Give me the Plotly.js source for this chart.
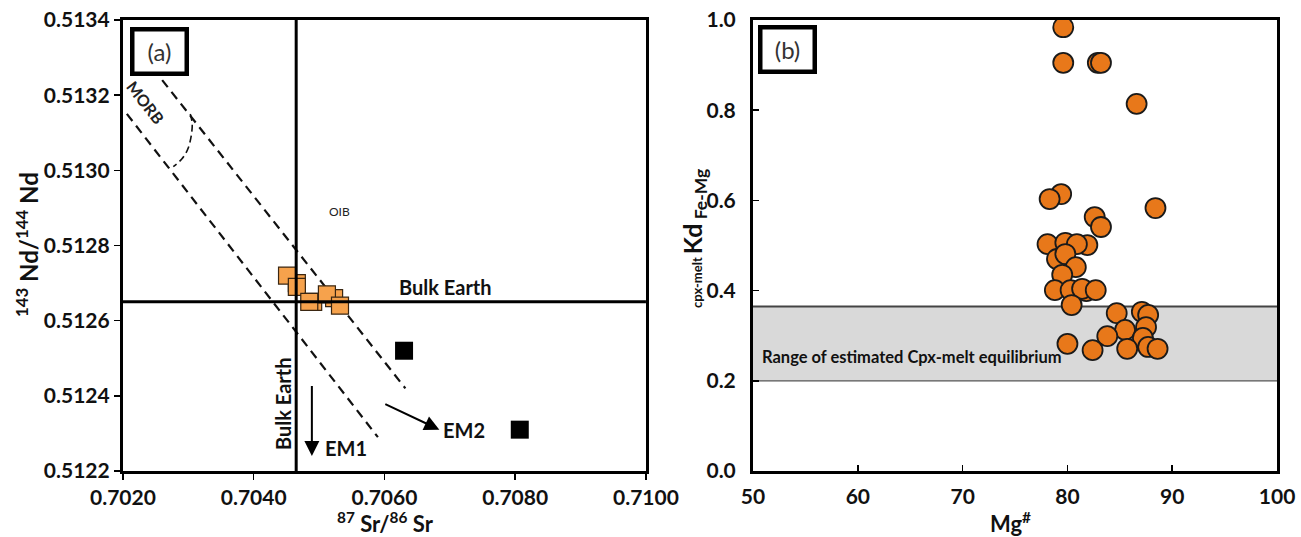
<!DOCTYPE html>
<html>
<head>
<meta charset="utf-8">
<script src="https://cdn.plot.ly/plotly-3.0.1.min.js"></script>
<style>html,body{margin:0;padding:0;background:#fff;}#chart{width:1301px;height:537px;}</style>
</head>
<body>
<div id="chart"></div>
<script>
// ---------- Panel (a): 87Sr/86Sr vs 143Nd/144Nd ----------
const srTicks = [0.7020, 0.7040, 0.7060, 0.7080, 0.7100];
const ndTicks = [0.5122, 0.5124, 0.5126, 0.5128, 0.5130, 0.5132, 0.5134];
const sampleSr = [0.70466, 0.70451, 0.70466, 0.70491, 0.70485, 0.70523, 0.70512, 0.70532];
const sampleNd = [0.51270, 0.51272, 0.51269, 0.51265, 0.51265, 0.51266, 0.51267, 0.51264];
const refSr = [0.70630, 0.70807];
const refNd = [0.51252, 0.51231];
const bulkEarthSr = 0.70465;
const bulkEarthNd = 0.51265;
const upperArraySr = [0.70260, 0.70632];
const upperArrayNd = [0.51324, 0.51242];
const lowerArraySr = [0.70206, 0.70590];
const lowerArrayNd = [0.51315, 0.51229];
const morbSr = [0.70303, 0.70306, 0.70300, 0.70290, 0.70277];
const morbNd = [0.51315, 0.51312, 0.51306, 0.51303, 0.51301];
const em1Arrow = {sr: [0.70489, 0.70489], nd: [0.51243, 0.51224]};
const em2Arrow = {sr: [0.70599, 0.70684], nd: [0.51238, 0.51231]};

// ---------- Panel (b): Mg# vs Kd Fe-Mg ----------
const mgTicks = [50, 60, 70, 80, 90, 100];
const kdTicks = [0.0, 0.2, 0.4, 0.6, 0.8, 1.0];
const mgNumber = [79.6, 79.6, 82.9, 83.2, 86.6,
  79.4, 78.3, 88.4, 82.6, 83.2,
  78.1, 79.8, 81.9, 80.9, 79.0, 79.8, 80.8, 79.5,
  78.8, 80.3, 81.8, 81.4, 82.7, 80.4,
  84.7, 87.1, 87.7, 87.5, 85.5, 83.8, 87.2,
  80.0, 82.4, 85.7, 87.7, 88.6];
const kdFeMg = [0.984, 0.905, 0.905, 0.905, 0.814,
  0.614, 0.603, 0.583, 0.563, 0.541,
  0.503, 0.506, 0.501, 0.503, 0.470, 0.481, 0.452, 0.435,
  0.401, 0.401, 0.399, 0.404, 0.401, 0.368,
  0.350, 0.353, 0.346, 0.319, 0.313, 0.299, 0.295,
  0.282, 0.268, 0.271, 0.275, 0.271];
const eqBand = [0.2, 0.365];

const FONT = 'Lato, "Open Sans", sans-serif';
const tickFont = {family: FONT, size: 21, color: '#111', weight: 'bold'};

const traces = [
  {x: upperArraySr, y: upperArrayNd, xaxis: 'x', yaxis: 'y', mode: 'lines',
   line: {color: '#111', width: 2.2, dash: '9px,6px'}, hoverinfo: 'skip'},
  {x: lowerArraySr, y: lowerArrayNd, xaxis: 'x', yaxis: 'y', mode: 'lines',
   line: {color: '#111', width: 2.2, dash: '9px,6px'}, hoverinfo: 'skip'},
  {x: morbSr, y: morbNd, xaxis: 'x', yaxis: 'y', mode: 'lines',
   line: {color: '#111', width: 1.6, dash: '7px,4px', shape: 'spline'}, hoverinfo: 'skip'},
  {x: sampleSr, y: sampleNd, xaxis: 'x', yaxis: 'y', mode: 'markers',
   marker: {symbol: 'square', size: 17, color: '#F6A24C', line: {color: '#3b2712', width: 1.2}}},
  {x: refSr, y: refNd, xaxis: 'x', yaxis: 'y', mode: 'markers',
   marker: {symbol: 'square', size: 18, color: '#000'}},
  {x: mgNumber, y: kdFeMg, xaxis: 'x2', yaxis: 'y2', mode: 'markers',
   marker: {symbol: 'circle', size: 20, color: '#E8781A', line: {color: '#1a1a1a', width: 1.8}}}
];

const axisCommon = {showgrid: false, zeroline: false, showline: true, linecolor: '#000',
  linewidth: 3, mirror: true, tickfont: tickFont, tickcolor: '#000', tickwidth: 1.5, ticklen: 6,
  fixedrange: true};

const layout = {
  width: 1301, height: 537, autosize: false,
  margin: {l: 0, r: 0, t: 0, b: 0},
  paper_bgcolor: '#fff', plot_bgcolor: '#fff',
  showlegend: false,
  font: {family: FONT, color: '#111'},
  xaxis: Object.assign({}, axisCommon, {domain: [0.0945, 0.4965], range: [0.7020, 0.7100],
    tickmode: 'array', tickvals: srTicks, tickformat: '.4f', ticks: 'outside', anchor: 'y'}),
  yaxis: Object.assign({}, axisCommon, {domain: [0.1229, 0.9628], range: [0.5122, 0.5134],
    tickmode: 'array', tickvals: ndTicks, tickformat: '.4f', ticks: 'outside', anchor: 'x'}),
  xaxis2: Object.assign({}, axisCommon, {domain: [0.5788, 0.9816], range: [50, 100],
    tickmode: 'array', tickvals: mgTicks, ticks: 'inside', anchor: 'y2', ticklabelstandoff: 5}),
  yaxis2: Object.assign({}, axisCommon, {domain: [0.1229, 0.9628], range: [0, 1],
    tickmode: 'array', tickvals: kdTicks, tickformat: '.1f', ticks: 'inside', anchor: 'x2',
    ticklabelstandoff: 10}),
  shapes: [
    {type: 'line', xref: 'x', yref: 'y domain', x0: bulkEarthSr, x1: bulkEarthSr, y0: 0, y1: 1,
     line: {color: '#000', width: 3}},
    {type: 'line', xref: 'x domain', yref: 'y', x0: 0, x1: 1, y0: bulkEarthNd, y1: bulkEarthNd,
     line: {color: '#000', width: 3}},
    {type: 'rect', xref: 'x2 domain', yref: 'y2', x0: 0, x1: 1, y0: eqBand[0], y1: eqBand[1],
     fillcolor: '#d9d9d9', line: {width: 0}, layer: 'below'},
    {type: 'line', xref: 'x2 domain', yref: 'y2', x0: 0, x1: 1, y0: eqBand[1], y1: eqBand[1],
     line: {color: '#444', width: 2}, layer: 'below'},
    {type: 'line', xref: 'x2 domain', yref: 'y2', x0: 0, x1: 1, y0: eqBand[0], y1: eqBand[0],
     line: {color: '#555', width: 1.2}, layer: 'below'}
  ],
  annotations: [
    // panel labels
    {xref: 'paper', yref: 'paper', x: 159/1301, y: 1 - 51.5/537, xanchor: 'center', yanchor: 'middle',
     text: '(a)', showarrow: false,
     font: {family: FONT, size: 24, color: '#333'}, bordercolor: '#000', borderwidth: 4.5,
     width: 50, height: 40, borderpad: 0, bgcolor: '#fff'},
    {xref: 'paper', yref: 'paper', x: 787.5/1301, y: 1 - 49.5/537, xanchor: 'center', yanchor: 'middle',
     text: '(b)', showarrow: false,
     font: {family: FONT, size: 24, color: '#333'}, bordercolor: '#000', borderwidth: 4.5,
     width: 50, height: 40, borderpad: 0, bgcolor: '#fff'},
    // axis titles
    {xref: 'paper', yref: 'paper', x: 27/1301, y: 1 - 245/537, xanchor: 'center', yanchor: 'middle',
     textangle: -90, showarrow: false,
     text: '<sup>143</sup> Nd/<sup>144</sup> Nd', font: {family: FONT, size: 24, weight: 'bold', color: '#111'}},
    {xref: 'paper', yref: 'paper', x: 385/1301, y: 1 - 522/537, xanchor: 'center', yanchor: 'middle',
     showarrow: false,
     text: '<sup>87</sup> Sr/<sup>86</sup> Sr', font: {family: FONT, size: 22, weight: 'bold', color: '#111'}},
    {xref: 'paper', yref: 'paper', x: 1010/1301, y: 1 - 522/537, xanchor: 'center', yanchor: 'middle',
     showarrow: false,
     text: 'Mg<sup>#</sup>', font: {family: FONT, size: 22, weight: 'bold', color: '#111'}},
    {xref: 'paper', yref: 'paper', x: 694/1301, y: 1 - 239/537, xanchor: 'center', yanchor: 'middle',
     textangle: -90, showarrow: false,
     text: '<span style="font-size:13px">cpx-melt </span>Kd<sub> Fe-Mg</sub>',
     font: {family: FONT, size: 25, weight: 'bold', color: '#111'}},
    // panel (a) texts
    {xref: 'x', yref: 'y', x: 0.70235, y: 0.51318, text: 'MORB', textangle: 52, showarrow: false,
     font: {family: FONT, size: 16, weight: 'bold', color: '#222'}},
    {xref: 'x', yref: 'y', x: 0.70532, y: 0.51289, text: 'OIB', showarrow: false,
     font: {family: FONT, size: 12, color: '#222'}},
    {xref: 'x', yref: 'y', x: 0.70693, y: 0.51269, text: 'Bulk Earth', showarrow: false,
     font: {family: FONT, size: 20, weight: 'bold', color: '#111'}},
    {xref: 'x', yref: 'y', x: 0.70446, y: 0.51238, text: 'Bulk Earth', textangle: -90, showarrow: false,
     font: {family: FONT, size: 20, weight: 'bold', color: '#111'}},
    {xref: 'x', yref: 'y', x: 0.70541, y: 0.51226, text: 'EM1', showarrow: false,
     font: {family: FONT, size: 20, weight: 'bold', color: '#111'}},
    {xref: 'x', yref: 'y', x: 0.70722, y: 0.51231, text: 'EM2', showarrow: false,
     font: {family: FONT, size: 20, weight: 'bold', color: '#111'}},
    {xref: 'x', yref: 'y', axref: 'x', ayref: 'y', x: em1Arrow.sr[1], y: em1Arrow.nd[1],
     ax: em1Arrow.sr[0], ay: em1Arrow.nd[0], text: '', showarrow: true, arrowhead: 2,
     arrowsize: 1.5, arrowwidth: 2, arrowcolor: '#000'},
    {xref: 'x', yref: 'y', axref: 'x', ayref: 'y', x: em2Arrow.sr[1], y: em2Arrow.nd[1],
     ax: em2Arrow.sr[0], ay: em2Arrow.nd[0], text: '', showarrow: true, arrowhead: 2,
     arrowsize: 1.5, arrowwidth: 2, arrowcolor: '#000'},
    // panel (b) band text
    {xref: 'x2', yref: 'y2', x: 50.7, y: 0.253, xanchor: 'left', yanchor: 'middle', showarrow: false,
     text: 'Range of estimated Cpx-melt equilibrium',
     font: {family: FONT, size: 16.5, weight: 'bold', color: '#111'}}
  ]
};

Plotly.newPlot('chart', traces, layout, {staticPlot: true, displayModeBar: false});
</script>
</body>
</html>
